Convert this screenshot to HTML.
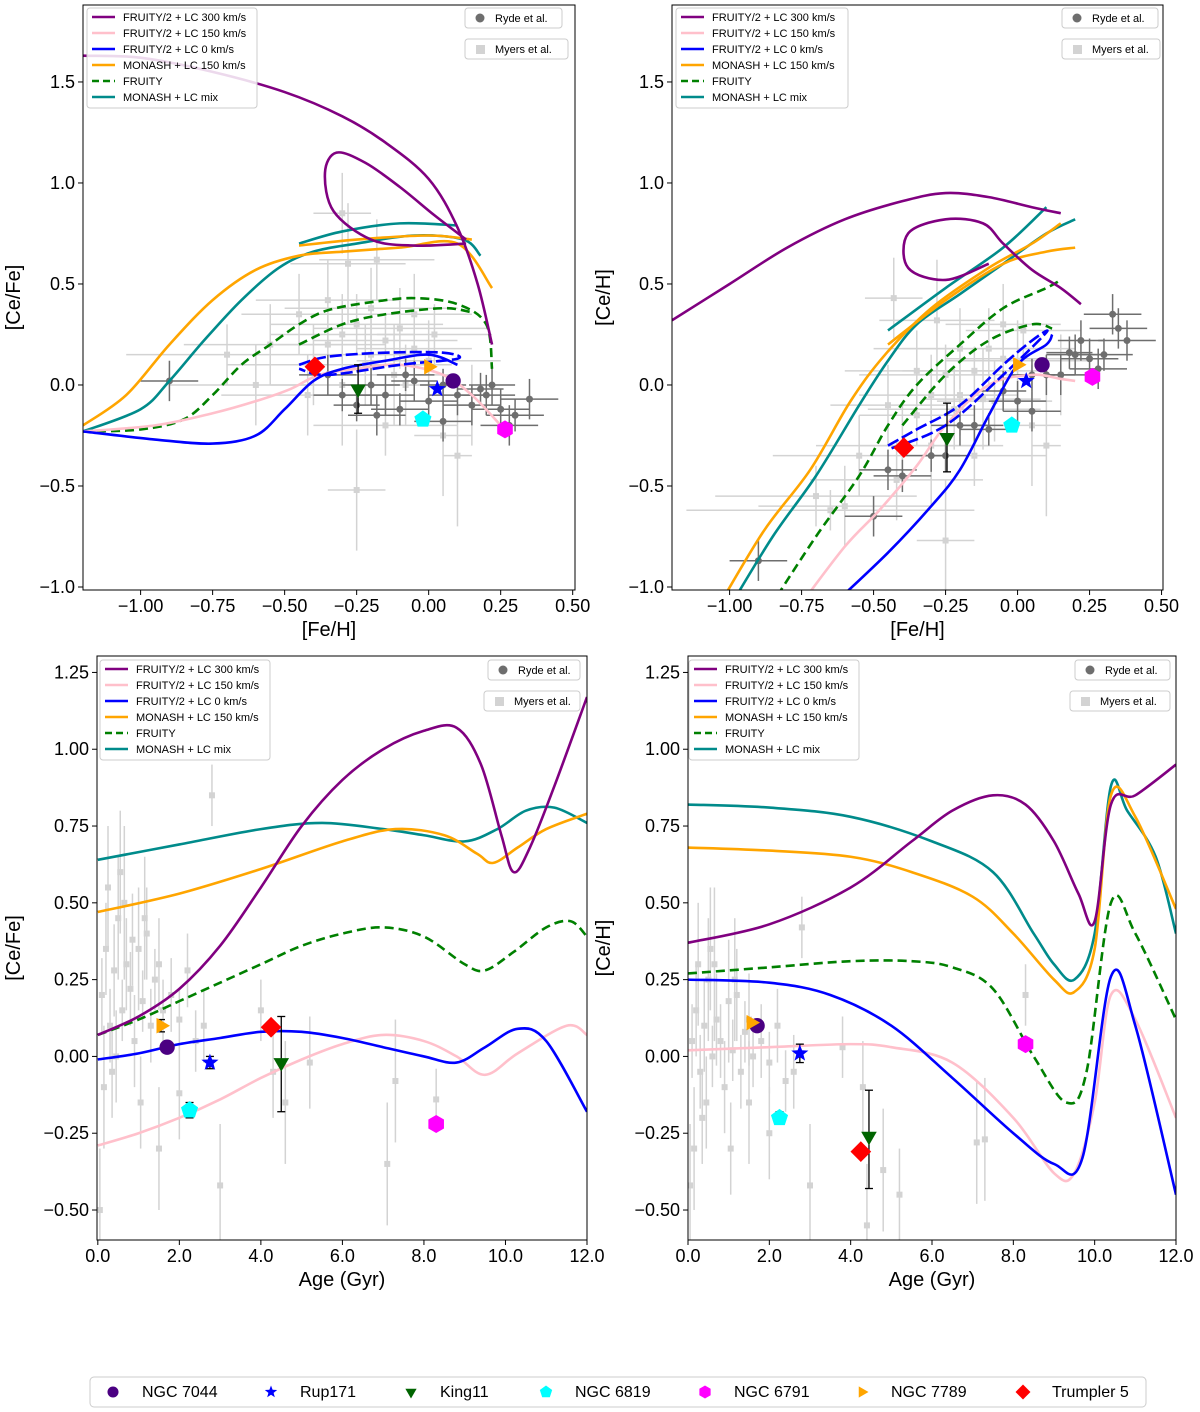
<!DOCTYPE html>
<html><head><meta charset="utf-8">
<style>
body{margin:0;background:#fff;}
svg{display:block;font-family:"Liberation Sans","DejaVu Sans",sans-serif;}
</style></head>
<body>
<svg id="fig" width="1200" height="1412" viewBox="0 0 1200 1412"></svg>
<script>
// ---------- DATA ----------
const tlPurple=[[-1.2,1.63],[-1.0,1.62],[-0.75,1.55],[-0.5,1.45],[-0.3,1.33],[-0.15,1.2],[0,1.02],[0.1,0.78],[0.17,0.5],[0.22,0.2]];
const tlPurpleLoop=[[0.13,0.7],[-0.05,0.69],[-0.2,0.72],[-0.33,0.86],[-0.36,1.05],[-0.32,1.15],[-0.22,1.1],[-0.1,0.98],[0.02,0.84],[0.13,0.72]];
const tlTeal=[[-1.2,-0.23],[-1.0,-0.12],[-0.9,0.02],[-0.78,0.22],[-0.65,0.42],[-0.52,0.58],[-0.4,0.66],[-0.25,0.7],[-0.05,0.74],[0.12,0.72],[0.18,0.64]];
const tlTeal2=[[-0.45,0.7],[-0.3,0.76],[-0.1,0.8],[0.1,0.79]];
const tlOrange=[[-1.2,-0.2],[-1.05,-0.05],[-0.9,0.2],[-0.75,0.42],[-0.6,0.57],[-0.45,0.64],[-0.3,0.66],[-0.1,0.68],[0.1,0.7],[0.22,0.48]];
const tlOrange2=[[-0.45,0.69],[-0.25,0.72],[0,0.74],[0.15,0.72]];
const tlGreen=[[-1.2,-0.23],[-1.0,-0.22],[-0.85,-0.17],[-0.75,-0.05],[-0.65,0.1],[-0.55,0.2],[-0.45,0.3],[-0.35,0.37],[-0.2,0.41],[-0.05,0.43],[0.1,0.4],[0.2,0.3],[0.22,0.08]];
const tlGreen2=[[-0.45,0.2],[-0.3,0.3],[-0.15,0.35],[0.05,0.38],[0.15,0.36]];
const tlPink=[[-1.2,-0.23],[-0.95,-0.2],[-0.75,-0.14],[-0.6,-0.08],[-0.48,-0.02],[-0.38,0.05],[-0.25,0.08],[-0.1,0.1],[0.05,0.05],[0.15,-0.05],[0.25,-0.2]];
const tlBlue=[[-1.2,-0.23],[-0.95,-0.27],[-0.75,-0.29],[-0.6,-0.25],[-0.5,-0.12],[-0.4,0.02],[-0.3,0.08],[-0.15,0.12],[0,0.15],[0.1,0.1]];
const tlBlue2=[[-0.45,0.1],[-0.35,0.14],[-0.15,0.16],[0.05,0.16],[0.1,0.13],[-0.1,0.1],[-0.35,0.05],[-0.45,0.08]];

const trPurple=[[-1.2,0.32],[-1.0,0.5],[-0.8,0.68],[-0.6,0.82],[-0.4,0.91],[-0.25,0.95],[-0.1,0.93],[0.05,0.88],[0.15,0.85]];
const trPurpleLoop=[[-0.1,0.6],[-0.25,0.52],[-0.38,0.58],[-0.38,0.75],[-0.25,0.82],[-0.12,0.8],[-0.05,0.7],[0.05,0.57],[0.15,0.48],[0.22,0.4]];
const trTeal=[[-1.0,-1.1],[-0.85,-0.75],[-0.7,-0.45],[-0.55,-0.1],[-0.45,0.12],[-0.35,0.3],[-0.2,0.45],[-0.05,0.6],[0.1,0.75],[0.2,0.82]];
const trTeal2=[[-0.45,0.27],[-0.25,0.48],[-0.05,0.68],[0.1,0.88]];
const trOrange=[[-1.04,-1.1],[-0.88,-0.72],[-0.72,-0.42],[-0.58,-0.08],[-0.46,0.15],[-0.3,0.38],[-0.1,0.58],[0.05,0.7],[0.15,0.8]];
const trOrange2=[[-0.45,0.2],[-0.25,0.42],[-0.05,0.6],[0.1,0.66],[0.2,0.68]];
const trGreen=[[-0.86,-1.1],[-0.7,-0.75],[-0.55,-0.45],[-0.45,-0.2],[-0.35,0.0],[-0.2,0.2],[-0.05,0.38],[0.1,0.48],[0.15,0.52]];
const trGreen2=[[-0.4,-0.2],[-0.25,0.05],[-0.1,0.22],[0.05,0.3],[0.12,0.28]];
const trPink=[[-0.76,-1.1],[-0.6,-0.8],[-0.48,-0.62],[-0.35,-0.4],[-0.25,-0.2],[-0.1,0.0],[0.05,0.05],[0.15,0.03],[0.2,0.02]];
const trBlue=[[-0.65,-1.1],[-0.45,-0.83],[-0.3,-0.6],[-0.2,-0.42],[-0.1,-0.15],[0.0,0.1],[0.1,0.2],[0.12,0.25]];
const trBlue2=[[-0.45,-0.3],[-0.35,-0.22],[-0.2,-0.1],[-0.05,0.1],[0.05,0.22],[0.1,0.26],[-0.05,0.05],[-0.25,-0.2],[-0.45,-0.32]];

const blPurple=[[0,0.07],[1,0.13],[2,0.22],[3,0.36],[4,0.55],[5,0.75],[6,0.9],[7,1.0],[8,1.06],[8.8,1.07],[9.4,0.95],[9.9,0.72],[10.2,0.6],[10.6,0.68],[11.2,0.88],[12,1.17]];
const blTeal=[[0,0.64],[2,0.69],[4,0.74],[5.5,0.76],[7,0.74],[8,0.72],[9,0.7],[9.8,0.74],[10.5,0.8],[11.2,0.81],[12,0.76]];
const blOrange=[[0,0.47],[2,0.53],[4,0.61],[6,0.7],[7.3,0.74],[8.5,0.72],[9.3,0.66],[9.7,0.63],[10.3,0.68],[11,0.74],[12,0.79]];
const blGreen=[[0,0.07],[1,0.12],[2,0.18],[3,0.24],[4,0.3],[5,0.36],[6,0.4],[7,0.42],[8,0.39],[9,0.3],[9.5,0.28],[10.2,0.34],[11,0.42],[11.6,0.44],[12,0.39]];
const blBlue=[[0,-0.01],[1,0.01],[2,0.04],[3,0.06],[4,0.08],[5,0.08],[6,0.06],[7,0.03],[8,0.0],[8.8,-0.02],[9.5,0.03],[10.3,0.09],[11,0.05],[12,-0.18]];
const blPink=[[0,-0.29],[1,-0.25],[2,-0.2],[3,-0.14],[4,-0.07],[5,-0.01],[6,0.04],[7,0.07],[8,0.05],[8.8,0.0],[9.5,-0.06],[10.3,0.01],[11.5,0.1],[12,0.07]];

const brPurple=[[0,0.37],[2,0.43],[4,0.55],[5.5,0.7],[6.5,0.8],[7.5,0.85],[8.3,0.82],[9,0.7],[9.6,0.53],[10,0.44],[10.4,0.82],[11,0.85],[12,0.95]];
const brTeal=[[0,0.82],[2,0.81],[4,0.78],[6,0.7],[7.5,0.6],[8.5,0.4],[9,0.3],[9.5,0.25],[10,0.4],[10.4,0.88],[10.8,0.8],[11.5,0.65],[12,0.4]];
const brOrange=[[0,0.68],[2,0.67],[4,0.65],[5.5,0.6],[7,0.52],[8,0.4],[9,0.25],[9.5,0.21],[10,0.35],[10.4,0.85],[11,0.78],[12,0.48]];
const brGreen=[[0,0.27],[2,0.29],[4,0.31],[5.5,0.31],[6.5,0.29],[7.5,0.22],[8.5,0.0],[9.3,-0.15],[9.8,-0.05],[10.4,0.5],[11,0.4],[12,0.12]];
const brBlue=[[0,0.25],[2,0.24],[3.5,0.2],[5,0.1],[6.5,-0.07],[8,-0.25],[9,-0.35],[9.7,-0.33],[10.4,0.26],[11,0.1],[12,-0.45]];
const brPink=[[0,0.02],[2,0.03],[4,0.04],[5,0.03],[6.5,-0.02],[8,-0.2],[9,-0.38],[9.5,-0.38],[10,-0.15],[10.4,0.2],[11,0.12],[12,-0.2]];

// grey observations [x, y, xerr, yerr]
const tlMyers=[[-0.35,0.2,0.2,0.15],[-0.3,0.25,0.25,0.2],[-0.25,0.3,0.3,0.15],[-0.2,0.15,0.2,0.2],[-0.15,0.22,0.25,0.12],[-0.1,0.28,0.3,0.2],[-0.05,0.18,0.2,0.15],[0,0.12,0.25,0.2],[-0.4,0.1,0.3,0.2],[-0.45,0.35,0.2,0.2],[-0.2,0.38,0.3,0.2],[-0.12,0.05,0.2,0.25],[-0.3,0.0,0.25,0.3],[-0.55,0.2,0.3,0.2],[-0.05,0.35,0.2,0.2],[-0.28,0.6,0.2,0.3],[-0.3,0.85,0.1,0.2],[0.05,-0.25,0.1,0.3],[0.1,-0.35,0.05,0.35],[-0.25,-0.52,0.1,0.3],[-0.15,-0.2,0.25,0.15],[-0.35,0.42,0.25,0.2],[0.02,0.25,0.2,0.15],[-0.22,0.1,0.3,0.2],[-0.08,0.0,0.2,0.2],[-0.18,0.62,0.2,0.2],[-0.6,0.0,0.3,0.2],[-0.7,0.15,0.35,0.15],[0.15,-0.1,0.1,0.2],[-0.42,-0.05,0.3,0.2]];
const tlRyde=[[-0.9,0.02,0.1,0.1],[-0.3,-0.05,0.1,0.08],[-0.25,-0.1,0.08,0.08],[-0.2,0.0,0.1,0.1],[-0.15,-0.05,0.1,0.1],[-0.1,-0.12,0.1,0.08],[-0.05,0.02,0.08,0.1],[0.0,-0.08,0.1,0.1],[0.05,0.0,0.08,0.08],[0.1,-0.05,0.1,0.1],[0.15,-0.1,0.1,0.1],[0.2,-0.05,0.1,0.1],[0.25,-0.12,0.1,0.1],[0.3,-0.15,0.1,0.08],[0.35,-0.07,0.1,0.1],[0.18,-0.02,0.08,0.08],[-0.35,0.05,0.1,0.1],[-0.18,-0.15,0.1,0.1],[0.05,-0.18,0.1,0.1],[0.22,0.0,0.08,0.1],[0.28,-0.2,0.1,0.1],[-0.08,0.05,0.1,0.08]];
const trMyers=[[-0.35,-0.15,0.2,0.15],[-0.3,-0.05,0.25,0.2],[-0.25,0.05,0.3,0.15],[-0.2,-0.05,0.2,0.2],[-0.15,0.07,0.25,0.12],[-0.1,0.18,0.3,0.2],[-0.05,0.13,0.2,0.15],[0,0.12,0.25,0.2],[-0.4,-0.3,0.3,0.2],[-0.45,-0.1,0.2,0.2],[-0.2,0.18,0.3,0.2],[-0.12,-0.07,0.2,0.25],[-0.3,-0.3,0.25,0.3],[-0.55,-0.35,0.3,0.2],[-0.05,0.3,0.2,0.2],[-0.28,0.32,0.2,0.3],[-0.43,0.43,0.1,0.2],[0.05,-0.2,0.1,0.3],[0.1,-0.3,0.05,0.35],[-0.25,-0.77,0.1,0.3],[-0.15,-0.35,0.25,0.15],[-0.35,0.07,0.25,0.2],[0.02,0.27,0.2,0.15],[-0.22,-0.12,0.3,0.2],[-0.08,-0.08,0.2,0.2],[-0.6,-0.6,0.3,0.2],[-0.7,-0.55,0.35,0.15],[0.15,0.05,0.1,0.2],[-0.42,-0.47,0.3,0.2],[-0.65,-0.62,0.5,0.1]];
const trRyde=[[-0.9,-0.87,0.1,0.1],[-0.3,-0.35,0.1,0.08],[-0.25,-0.35,0.08,0.08],[-0.2,-0.2,0.1,0.1],[-0.15,-0.2,0.1,0.1],[-0.1,-0.22,0.1,0.08],[-0.05,-0.03,0.08,0.1],[0.0,-0.08,0.1,0.1],[0.05,0.05,0.08,0.08],[0.1,0.05,0.1,0.1],[0.15,0.05,0.1,0.1],[0.2,0.15,0.1,0.1],[0.25,0.13,0.1,0.1],[0.3,0.15,0.1,0.08],[0.35,0.28,0.1,0.1],[0.18,0.16,0.08,0.08],[-0.45,-0.42,0.1,0.1],[-0.5,-0.65,0.1,0.1],[0.05,-0.13,0.1,0.1],[0.22,0.22,0.08,0.1],[0.28,0.08,0.1,0.1],[-0.4,-0.45,0.1,0.08],[0.33,0.35,0.1,0.1],[0.38,0.22,0.1,0.1]];
// age panels [age, value, yerr]
const blMyers=[[0.1,0.2,0.12],[0.2,0.35,0.15],[0.3,0.1,0.12],[0.4,0.28,0.15],[0.5,0.45,0.2],[0.6,0.15,0.1],[0.7,0.3,0.15],[0.8,0.22,0.12],[0.9,0.05,0.15],[1.0,0.35,0.2],[1.1,0.18,0.1],[1.2,0.4,0.15],[1.3,0.1,0.12],[1.4,0.25,0.1],[1.5,0.3,0.15],[1.6,0.15,0.1],[1.8,0.2,0.12],[2.0,0.12,0.1],[2.2,0.28,0.12],[2.4,0.05,0.1],[2.6,0.1,0.12],[2.8,0.85,0.1],[0.15,-0.1,0.2],[0.25,0.55,0.2],[0.35,-0.05,0.15],[0.05,-0.5,0.2],[0.45,0.0,0.15],[0.65,0.5,0.25],[1.05,-0.15,0.15],[1.15,0.45,0.2],[1.5,-0.3,0.2],[2.0,-0.12,0.15],[3.0,-0.42,0.2],[4.3,-0.05,0.15],[4.6,-0.15,0.2],[5.2,-0.02,0.15],[7.1,-0.35,0.2],[7.3,-0.08,0.2],[8.3,-0.14,0.1],[4.0,0.15,0.1],[0.55,0.6,0.2],[0.85,0.38,0.15]];
const brMyers=[[0.1,0.05,0.12],[0.2,0.15,0.15],[0.3,-0.05,0.12],[0.4,0.1,0.15],[0.5,0.25,0.2],[0.6,0.0,0.1],[0.7,0.12,0.15],[0.8,0.05,0.12],[0.9,-0.1,0.15],[1.0,0.18,0.2],[1.1,0.02,0.1],[1.2,0.2,0.15],[1.3,-0.05,0.12],[1.4,0.08,0.1],[1.5,0.12,0.15],[1.6,0.0,0.1],[1.8,0.05,0.12],[2.0,-0.02,0.1],[2.2,0.1,0.12],[2.4,-0.08,0.1],[2.6,-0.05,0.12],[2.8,0.42,0.1],[0.15,-0.3,0.2],[0.25,0.3,0.2],[0.35,-0.2,0.15],[0.05,-0.42,0.2],[0.45,-0.15,0.15],[0.65,0.3,0.25],[1.05,-0.3,0.15],[1.15,0.25,0.2],[1.5,-0.15,0.2],[2.0,-0.25,0.15],[3.0,-0.42,0.2],[4.3,-0.1,0.15],[4.4,-0.55,0.2],[5.2,-0.45,0.15],[4.8,-0.37,0.2],[7.1,-0.28,0.2],[7.3,-0.27,0.2],[8.3,0.2,0.1],[3.8,0.03,0.1],[0.55,0.35,0.2]];

// clusters: [x, y] per panel, order: NGC7044, Rup171, King11, NGC6819, NGC6791, NGC7789, Trumpler5
const clusterNames=["NGC 7044","Rup171","King11","NGC 6819","NGC 6791","NGC 7789","Trumpler 5"];
const tlClusters=[[0.085,0.02],[0.03,-0.02],[-0.245,-0.02],[-0.02,-0.17],[0.265,-0.22],[0.0,0.09],[-0.395,0.09]];
const trClusters=[[0.085,0.1],[0.03,0.02],[-0.245,-0.26],[-0.02,-0.2],[0.26,0.04],[0.0,0.1],[-0.395,-0.31]];
const blClusters=[[1.7,0.03],[2.75,-0.02],[4.5,-0.02],[2.25,-0.175],[8.3,-0.22],[1.55,0.1],[4.25,0.095]];
const brClusters=[[1.7,0.1],[2.75,0.01],[4.45,-0.26],[2.25,-0.2],[8.3,0.04],[1.55,0.11],[4.25,-0.31]];
// cluster y error [lo, hi] (only where drawn)
const tlErr=[null,null,[-0.14,0.1],null,null,null,null];
const trErr=[null,null,[-0.43,-0.09],null,null,null,null];
const blErr=[null,[-0.04,0.0],[-0.18,0.13],[-0.2,-0.15],null,[0.08,0.12],null];
const brErr=[null,[-0.02,0.04],[-0.43,-0.11],[-0.22,-0.18],[0.02,0.06],null,null];

const fehTicks=[-1.0,-0.75,-0.5,-0.25,0.0,0.25,0.5];
const fehTickLabels=["−1.00","−0.75","−0.50","−0.25","0.00","0.25","0.50"];
const topYTicks=[-1.0,-0.5,0.0,0.5,1.0,1.5];
const topYTickLabels=["−1.0","−0.5","0.0","0.5","1.0","1.5"];
const ageTicks=[0,2,4,6,8,10,12];
const ageTickLabels=["0.0","2.0","4.0","6.0","8.0","10.0","12.0"];
const botYTicks=[-0.5,-0.25,0,0.25,0.5,0.75,1.0,1.25];
const botYTickLabels=["−0.50","−0.25","0.00","0.25","0.50","0.75","1.00","1.25"];

const legendLabels=["FRUITY/2 + LC 300 km/s","FRUITY/2 + LC 150 km/s","FRUITY/2 + LC 0 km/s","MONASH + LC 150 km/s","FRUITY","MONASH + LC mix"];
// ---------- STYLE ----------
const C={purple:"#800080",pink:"#ffc0cb",blue:"#0000ff",orange:"#ffa500",green:"#008000",teal:"#008b8b"};
const clusterColors=["#4b0082","#0000ff","#006400","#00ffff","#ff00ff","#ffa500","#ff0000"];
const clusterShapes=["circle","star","tridown","pent","hex","triright","diamond"];
const NS="http://www.w3.org/2000/svg";
const fig=document.getElementById('fig');
function mk(tag,attrs,parent){const e=document.createElementNS(NS,tag);for(const k in attrs)e.setAttribute(k,attrs[k]);(parent||fig).appendChild(e);return e;}

function smoothPath(pts){
  let d=`M${pts[0][0]},${pts[0][1]}`;
  for(let i=0;i<pts.length-1;i++){
    const p0=pts[Math.max(0,i-1)],p1=pts[i],p2=pts[i+1],p3=pts[Math.min(pts.length-1,i+2)];
    const c1=[p1[0]+(p2[0]-p0[0])/6,p1[1]+(p2[1]-p0[1])/6];
    const c2=[p2[0]-(p3[0]-p1[0])/6,p2[1]-(p3[1]-p1[1])/6];
    d+=` C${c1[0]},${c1[1]} ${c2[0]},${c2[1]} ${p2[0]},${p2[1]}`;
  }
  return d;
}
function shapePath(shape,cx,cy,s){
  const poly=(n,rot,r)=>{let a=[];for(let i=0;i<n;i++){const t=rot+i*2*Math.PI/n;a.push([cx+r*Math.cos(t),cy+r*Math.sin(t)]);}return 'M'+a.map(p=>p.join(',')).join('L')+'Z';};
  if(shape==='star'){let a=[];for(let i=0;i<10;i++){const r=i%2?s*0.42:s;const t=-Math.PI/2+i*Math.PI/5;a.push([cx+r*Math.cos(t),cy+r*Math.sin(t)]);}return 'M'+a.map(p=>p.join(',')).join('L')+'Z';}
  if(shape==='tridown')return poly(3,Math.PI/2,s);
  if(shape==='triright')return poly(3,0,s);
  if(shape==='pent')return poly(5,-Math.PI/2,s);
  if(shape==='hex')return poly(6,Math.PI/2,s);
  if(shape==='diamond')return poly(4,-Math.PI/2,s*1.15);
  return null;
}
function marker(g,shape,color,cx,cy,s,name){
  let e;
  if(shape==='circle'){e=mk('circle',{cx,cy,r:s*0.85,fill:color},g);}
  else e=mk('path',{d:shapePath(shape,cx,cy,s),fill:color},g);
  
  
  return e;
}

let clipId=0;
function panel(cfg){
  const g=mk('g',{});
  
  
  const {x0,x1,y0,y1,xmin,xmax,ymin,ymax}=cfg;
  const sx=v=>x0+(v-xmin)/(xmax-xmin)*(x1-x0);
  const sy=v=>y1-(v-ymin)/(ymax-ymin)*(y1-y0);
  const id='clip'+(clipId++);
  const cp=mk('clipPath',{id},g);mk('rect',{x:x0,y:y0,width:x1-x0,height:y1-y0},cp);
  const plot=mk('g',{'clip-path':`url(#${id})`},g);
  
  
  // grey observations
  const drawObs=(arr,color,sq,name,isAge)=>{
    arr.forEach(p=>{
      const gg=mk('g',{},plot);
      
      
      const cx=sx(p[0]),cy=sy(p[1]);
      if(isAge){
        mk('line',{x1:cx,x2:cx,y1:sy(p[1]-p[2]),y2:sy(p[1]+p[2]),stroke:color,'stroke-width':1.5},gg);
        mk('line',{x1:sx(p[0]-0.06),x2:sx(p[0]+0.06),y1:cy,y2:cy,stroke:color,'stroke-width':1.5},gg);
      } else {
        mk('line',{x1:sx(p[0]-p[2]),x2:sx(p[0]+p[2]),y1:cy,y2:cy,stroke:color,'stroke-width':1.5},gg);
        mk('line',{x1:cx,x2:cx,y1:sy(p[1]-p[3]),y2:sy(p[1]+p[3]),stroke:color,'stroke-width':1.5},gg);
      }
      if(sq)mk('rect',{x:cx-3,y:cy-3,width:6,height:6,fill:color},gg);
      else mk('circle',{cx,cy,r:3.5,fill:color},gg);
    });
  };
  if(cfg.myers)drawObs(cfg.myers,'#d3d3d3',true,'myers-point',cfg.age);
  if(cfg.ryde)drawObs(cfg.ryde,'#6e6e6e',false,'ryde-point',false);
  // curves
  cfg.curves.forEach(c=>{
    const pts=c.data.map(p=>[sx(p[0]),sy(p[1])]);
    const e=mk('path',{d:smoothPath(pts),fill:'none',stroke:c.color,'stroke-width':2.6,'stroke-dasharray':c.dash||'none','stroke-linejoin':'round'},plot);
    
    
  });
  // clusters
  cfg.clusters.forEach((p,i)=>{
    const err=cfg.err[i];
    if(err){
      const cx=sx(p[0]);
      mk('line',{x1:cx,x2:cx,y1:sy(err[0]),y2:sy(err[1]),stroke:'#000','stroke-width':1.3},plot);
      mk('line',{x1:cx-4,x2:cx+4,y1:sy(err[0]),y2:sy(err[0]),stroke:'#000','stroke-width':1.3},plot);
      mk('line',{x1:cx-4,x2:cx+4,y1:sy(err[1]),y2:sy(err[1]),stroke:'#000','stroke-width':1.3},plot);
    }
    marker(plot,clusterShapes[i],clusterColors[i],sx(p[0]),sy(p[1]),cfg.ms,'cluster-'+clusterNames[i].toLowerCase().replace(/\s+/g,'-'));
  });
  // frame
  mk('rect',{x:x0,y:y0,width:x1-x0,height:y1-y0,fill:'none',stroke:'#000','stroke-width':1},g);
  // ticks
  cfg.xt.forEach((v,i)=>{
    const x=sx(v);
    mk('line',{x1:x,x2:x,y1:y1,y2:y1+5,stroke:'#000'},g);
    const t=mk('text',{x,y:y1+22,'font-size':18,'text-anchor':'middle'},g);t.textContent=cfg.xtl[i];
    
    
  });
  cfg.yt.forEach((v,i)=>{
    const y=sy(v);
    mk('line',{x1:x0-5,x2:x0,y1:y,y2:y,stroke:'#000'},g);
    const t=mk('text',{x:x0-8,y:y+6,'font-size':18,'text-anchor':'end'},g);t.textContent=cfg.ytl[i];
    
    
  });
  const xl=mk('text',{x:(x0+x1)/2,y:y1+46,'font-size':20,'text-anchor':'middle'},g);xl.textContent=cfg.xlabel;
  
  
  const ylx=cfg.ylx, yly=(y0+y1)/2;
  const yl=mk('text',{x:ylx,y:yly,'font-size':20,'text-anchor':'middle',transform:`rotate(-90 ${ylx} ${yly})`},g);yl.textContent=cfg.ylabel;
  
  
  // legend
  const L=cfg.leg;
  const lg=mk('g',{},g);
  
  
  mk('rect',{x:L[0],y:L[1],width:L[2],height:100,fill:'#fff','fill-opacity':0.85,stroke:'#ccc',rx:3},lg);
  const cols=[C.purple,C.pink,C.blue,C.orange,C.green,C.teal];
  legendLabels.forEach((lab,i)=>{
    const y=L[1]+9+i*16;
    mk('line',{x1:L[0]+5,x2:L[0]+28,y1:y,y2:y,stroke:cols[i],'stroke-width':2.6,'stroke-dasharray':i===4?'7,4':'none'},lg);
    const t=mk('text',{x:L[0]+36,y:y+4,'font-size':11},lg);t.textContent=lab;
    
    
  });
  const R=cfg.rl;
  [['Ryde et al.',false],['Myers et al.',true]].forEach((o,i)=>{
    const b=R[i];
    const bg=mk('g',{},g);
    
    
    mk('rect',{x:b[0],y:b[1],width:b[2],height:20,fill:'#fff',stroke:'#ccc',rx:3},bg);
    if(o[1])mk('rect',{x:b[0]+11,y:b[1]+6,width:9,height:9,fill:'#d3d3d3'},bg);
    else mk('circle',{cx:b[0]+15,cy:b[1]+10,r:4.5,fill:'#6e6e6e'},bg);
    const t=mk('text',{x:b[0]+30,y:b[1]+14,'font-size':11},bg);t.textContent=o[0];
  });
}

const fruityCurves=(P,PL,Pi,B,B2,O,O2,G,G2,T,T2)=>{
  const a=[];
  if(T)a.push({data:T,color:C.teal,name:'curve-monash-lc-mix'});
  if(T2)a.push({data:T2,color:C.teal,name:'curve-monash-lc-mix-branch'});
  if(O)a.push({data:O,color:C.orange,name:'curve-monash-lc-150'});
  if(O2)a.push({data:O2,color:C.orange,name:'curve-monash-lc-150-branch'});
  if(G)a.push({data:G,color:C.green,dash:'9,5',name:'curve-fruity'});
  if(G2)a.push({data:G2,color:C.green,dash:'9,5',name:'curve-fruity-branch'});
  if(Pi)a.push({data:Pi,color:C.pink,name:'curve-fruity2-lc-150'});
  if(B)a.push({data:B,color:C.blue,name:'curve-fruity2-lc-0'});
  if(B2)a.push({data:B2,color:C.blue,dash:'12,4',name:'curve-fruity2-lc-0-branch'});
  if(P)a.push({data:P,color:C.purple,name:'curve-fruity2-lc-300'});
  if(PL)a.push({data:PL,color:C.purple,name:'curve-fruity2-lc-300-loop'});
  return a;
};

panel({name:'panel-cefe-vs-feh',x0:83,x1:575,y0:5,y1:590,xmin:-1.2,xmax:0.508,ymin:-1.0149,ymax:1.881,
  xt:fehTicks,xtl:fehTickLabels,yt:topYTicks,ytl:topYTickLabels,xlabel:'[Fe/H]',ylabel:'[Ce/Fe]',ylx:20,
  myers:tlMyers,ryde:tlRyde,clusters:tlClusters,err:tlErr,ms:9,
  curves:fruityCurves(tlPurple,tlPurpleLoop,tlPink,tlBlue,tlBlue2,tlOrange,tlOrange2,tlGreen,tlGreen2,tlTeal,tlTeal2),
  leg:[87,8,170],rl:[[465,8,97],[465,39,103]]});
panel({name:'panel-ceh-vs-feh',x0:672,x1:1163,y0:5,y1:590,xmin:-1.2,xmax:0.505,ymin:-1.0149,ymax:1.881,
  xt:fehTicks,xtl:fehTickLabels,yt:topYTicks,ytl:topYTickLabels,xlabel:'[Fe/H]',ylabel:'[Ce/H]',ylx:610,
  myers:trMyers,ryde:trRyde,clusters:trClusters,err:trErr,ms:9,
  curves:fruityCurves(trPurple,trPurpleLoop,trPink,trBlue,trBlue2,trOrange,trOrange2,trGreen,trGreen2,trTeal,trTeal2),
  leg:[676,8,172],rl:[[1062,8,96],[1062,39,98]]});
panel({name:'panel-cefe-vs-age',x0:97,x1:587,y0:656,y1:1240,xmin:-0.02,xmax:12.0,ymin:-0.5976,ymax:1.3035,
  xt:ageTicks,xtl:ageTickLabels,yt:botYTicks,ytl:botYTickLabels,xlabel:'Age (Gyr)',ylabel:'[Ce/Fe]',ylx:20,age:true,
  myers:blMyers,clusters:blClusters,err:blErr,ms:9,
  curves:fruityCurves(blPurple,null,blPink,blBlue,null,blOrange,null,blGreen,null,blTeal,null),
  leg:[100,660,170],rl:[[488,660,92],[484,691,96]]});
panel({name:'panel-ceh-vs-age',x0:688,x1:1176,y0:656,y1:1240,xmin:0,xmax:12.0,ymin:-0.5976,ymax:1.3035,
  xt:ageTicks,xtl:ageTickLabels,yt:botYTicks,ytl:botYTickLabels,xlabel:'Age (Gyr)',ylabel:'[Ce/H]',ylx:610,age:true,
  myers:brMyers,clusters:brClusters,err:brErr,ms:9,
  curves:fruityCurves(brPurple,null,brPink,brBlue,null,brOrange,null,brGreen,null,brTeal,null),
  leg:[689,660,170],rl:[[1075,660,95],[1070,691,100]]});

// bottom cluster legend
const cl=mk('g',{});


mk('rect',{x:90,y:1377,width:1056,height:30,fill:'#fff',stroke:'#ccc',rx:4},cl);
const legX=[113,271,411,546,705,862,1023];
clusterNames.forEach((n,i)=>{
  const ent=mk('g',{},cl);
  
  
  marker(ent,clusterShapes[i],clusterColors[i],legX[i],1392,6.5,'legend-marker');
  const t=mk('text',{x:legX[i]+29,y:1397,'font-size':16},ent);t.textContent=n;
});
</script>
</body></html>
